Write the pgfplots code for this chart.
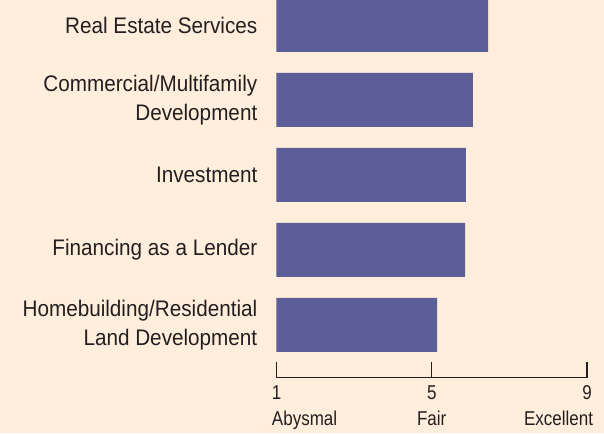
\documentclass[border=0pt]{standalone}
\usepackage{fontspec}
\setmainfont[FakeStretch=0.92]{Liberation Sans}
\newfontfamily\tickfont[FakeStretch=0.85]{Liberation Sans}
\usepackage{pgfplots}
\pgfplotsset{compat=1.18}
\definecolor{bg}{RGB}{255,238,219}
\definecolor{barc}{RGB}{91,94,151}
\definecolor{txt}{RGB}{35,31,32}
\begin{document}
\begin{tikzpicture}
\fill[bg] (-276.5pt,-55.3pt) rectangle (327.5pt,377.7pt);
\useasboundingbox (-276.5pt,-55.3pt) rectangle (327.5pt,377.7pt);
\begin{axis}[
  at={(0pt,0pt)}, anchor=south west,
  scale only axis, width=310.5pt, height=377.7pt,
  xmin=1, xmax=9, ymin=-0.703, ymax=4.333,
  xbar, bar width=54pt,
  axis lines*=left,
  y axis line style={draw=none},
  ytick style={draw=none},
  x axis line style={draw=txt, line width=1.2pt},
  xtick style={draw=txt, line width=1.2pt},
  xtick align=inside, major tick length=16pt,
  xtick={1,5,9},
  xticklabels={{\makebox[0pt]{1}\\\makebox[0pt][l]{\hspace{-4.5pt}Abysmal}},
               {\makebox[0pt]{5}\\\makebox[0pt]{Fair}},
               {\makebox[0pt]{9}\\\makebox[0pt][r]{Excellent\hspace{-6pt}}}},
  xticklabel style={align=center, font=\tickfont\fontsize{20}{25.5}\selectfont, text=txt, inner sep=0pt, yshift=-8pt},
  ytick={0,1,2,3,4},
  yticklabels={{Homebuilding/Residential\\Land Development},
               {Financing as a Lender},
               {Investment},
               {Commercial/Multifamily\\Development},
               {Real Estate Services}},
  yticklabel style={align=right, font=\fontsize{22.5}{29}\selectfont, text=txt, inner sep=0pt, xshift=-3pt},
  clip=true,
]
\addplot[fill=barc, draw=none] coordinates {(5.14,0) (5.86,1) (5.88,2) (6.06,3) (6.45,4)};
\end{axis}
\end{tikzpicture}
\end{document}
